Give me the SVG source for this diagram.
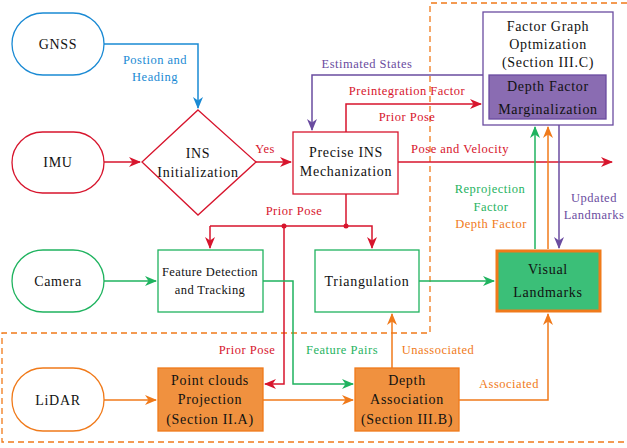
<svg xmlns="http://www.w3.org/2000/svg" width="627" height="448" viewBox="0 0 627 448">
<defs>
<style>
text{font-family:"Liberation Serif","Times New Roman",serif;text-anchor:middle;dominant-baseline:central}
.n{font-size:14px;fill:#111;letter-spacing:0.7px}
.lb{font-size:12.5px;letter-spacing:0.5px}
.red{stroke:#d7152d}
.blue{stroke:#1a8ad4}
.pur{stroke:#6a4ca0}
.grn{stroke:#1fb35f}
.org{stroke:#f07a1a}
.c{fill:none;stroke-width:1.5}
.box{stroke-width:1.3}
</style>
<marker id="ar" viewBox="0 0 12 10" refX="11" refY="5" markerWidth="12" markerHeight="10" markerUnits="userSpaceOnUse" orient="auto"><path d="M0,0 L12,5 L0,10 L3.5,5 Z" fill="#d7152d"/></marker>
<marker id="ab" viewBox="0 0 12 10" refX="11" refY="5" markerWidth="12" markerHeight="10" markerUnits="userSpaceOnUse" orient="auto"><path d="M0,0 L12,5 L0,10 L3.5,5 Z" fill="#1a8ad4"/></marker>
<marker id="ap" viewBox="0 0 12 10" refX="11" refY="5" markerWidth="12" markerHeight="10" markerUnits="userSpaceOnUse" orient="auto"><path d="M0,0 L12,5 L0,10 L3.5,5 Z" fill="#6a4ca0"/></marker>
<marker id="ag" viewBox="0 0 12 10" refX="11" refY="5" markerWidth="12" markerHeight="10" markerUnits="userSpaceOnUse" orient="auto"><path d="M0,0 L12,5 L0,10 L3.5,5 Z" fill="#1fb35f"/></marker>
<marker id="ao" viewBox="0 0 12 10" refX="11" refY="5" markerWidth="12" markerHeight="10" markerUnits="userSpaceOnUse" orient="auto"><path d="M0,0 L12,5 L0,10 L3.5,5 Z" fill="#f07a1a"/></marker>
</defs>
<rect width="627" height="448" fill="#fff"/>

<path id="dashed-region" d="M627,3 H430 V333 H2 V442 H627" fill="none" stroke="#f07a1a" stroke-width="1.3" stroke-dasharray="6,4"/>

<g id="connectors">
<path class="c blue" d="M104,44 H198 V108" marker-end="url(#ab)"/>
<path class="c red" d="M104,162 H140" marker-end="url(#ar)"/>
<path class="c red" d="M256,162 H291" marker-end="url(#ar)"/>
<path class="c pur" d="M483,75 H312 V130" marker-end="url(#ap)"/>
<path class="c red" d="M346,132 V104 H481" marker-end="url(#ar)"/>
<path class="c red" d="M398,162 H612" marker-end="url(#ar)"/>
<path class="c red" d="M346,194 V226"/>
<path class="c red" d="M210,226 H372 V248" marker-end="url(#ar)"/>
<path class="c red" d="M210,226 V248" marker-end="url(#ar)"/>
<path class="c red" d="M284,226 V384 H265" marker-end="url(#ar)"/>
<circle cx="346" cy="226" r="2.5" fill="#d7152d"/>
<circle cx="284" cy="226" r="2.5" fill="#d7152d"/>
<path class="c grn" d="M104,281 H156" marker-end="url(#ag)"/>
<path class="c grn" d="M263,281 H293 V384 H353" marker-end="url(#ag)"/>
<path class="c grn" d="M419,281 H494" marker-end="url(#ag)"/>
<path class="c grn" d="M535,249 V127" marker-end="url(#ag)"/>
<path class="c org" d="M548,249 V127" marker-end="url(#ao)"/>
<path class="c pur" d="M559,125 V248" marker-end="url(#ap)"/>
<path class="c org" d="M104,400 H156" marker-end="url(#ao)"/>
<path class="c org" d="M263,400 H353" marker-end="url(#ao)"/>
<path class="c org" d="M392,368 V314" marker-end="url(#ao)"/>
<path class="c org" d="M459,400 H548 V314" marker-end="url(#ao)"/>
</g>

<g id="labels">
<text class="lb" x="155" y="60" fill="#1a8ad4">Postion and</text>
<text class="lb" x="155" y="77" fill="#1a8ad4">Heading</text>
<text class="lb" x="265" y="149" fill="#d7152d">Yes</text>
<text class="lb" x="367" y="64" fill="#6a4ca0">Estimated States</text>
<text class="lb" x="407" y="91" fill="#d7152d">Preintegration Factor</text>
<text class="lb" x="407" y="117" fill="#d7152d">Prior Pose</text>
<text class="lb" x="460" y="149" fill="#d7152d">Pose and Velocity</text>
<text class="lb" x="294" y="211" fill="#d7152d">Prior Pose</text>
<text class="lb" x="490" y="189" fill="#1fb35f">Reprojection</text>
<text class="lb" x="491" y="207" fill="#1fb35f">Factor</text>
<text class="lb" x="491" y="224" fill="#f07a1a">Depth Factor</text>
<text class="lb" x="594" y="198" fill="#6a4ca0">Updated</text>
<text class="lb" x="594" y="215" fill="#6a4ca0">Landmarks</text>
<text class="lb" x="247" y="350" fill="#d7152d">Prior Pose</text>
<text class="lb" x="342" y="350" fill="#1fb35f">Feature Pairs</text>
<text class="lb" x="438" y="350" fill="#f07a1a">Unassociated</text>
<text class="lb" x="509" y="384" fill="#f07a1a">Associated</text>
</g>

<g id="gnss"><rect class="box" x="12" y="13" width="92" height="62" rx="31" fill="#fff" stroke="#1a8ad4"/><text class="n" x="58" y="44">GNSS</text></g>
<g id="imu"><rect class="box" x="12" y="132" width="92" height="61" rx="30.5" fill="#fff" stroke="#d7152d"/><text class="n" x="58" y="162">IMU</text></g>
<g id="camera"><rect class="box" x="12" y="250" width="92" height="62" rx="31" fill="#fff" stroke="#1fb35f"/><text class="n" x="58" y="281">Camera</text></g>
<g id="lidar"><rect class="box" x="12" y="368" width="92" height="63" rx="31" fill="#fff" stroke="#f07a1a"/><text class="n" x="58" y="400">LiDAR</text></g>

<g id="ins-init"><path class="box" d="M198,110 L256,162 L198,215 L142,162 Z" fill="#fff" stroke="#d7152d"/><text class="n" x="198" y="153">INS</text><text class="n" x="198" y="172">Initialization</text></g>
<g id="precise-ins"><rect class="box" x="293" y="132" width="105" height="62" fill="#fff" stroke="#d7152d"/><text class="n" x="346" y="152">Precise INS</text><text class="n" x="346" y="171">Mechanization</text></g>

<g id="factor-graph"><rect class="box" x="483" y="12" width="130" height="113" fill="#fff" stroke="#6a4ca0"/><text class="n" x="548" y="26">Factor Graph</text><text class="n" x="548" y="44">Optmization</text><text class="n" x="548" y="62">(Section III.C)</text></g>
<g id="depth-factor-marg"><rect class="box" x="489" y="75" width="117" height="44" fill="#8a6cb2" stroke="#6a4ca0"/><text class="n" x="548" y="86">Depth Factor</text><text class="n" x="548" y="109">Marginalization</text></g>

<g id="feature-detection"><rect class="box" x="158" y="250" width="105" height="62" fill="#fff" stroke="#1fb35f"/><text class="n" x="210" y="272" style="font-size:12.5px;letter-spacing:0.4px">Feature Detection</text><text class="n" x="210" y="290" style="font-size:12.5px;letter-spacing:0.4px">and Tracking</text></g>
<g id="triangulation"><rect class="box" x="315" y="250" width="104" height="62" fill="#fff" stroke="#1fb35f"/><text class="n" x="367" y="281">Triangulation</text></g>
<g id="visual-landmarks"><rect x="497" y="251" width="103" height="60" fill="#3bbf78" stroke="#f07a1a" stroke-width="3"/><text class="n" x="548" y="269">Visual</text><text class="n" x="548" y="292">Landmarks</text></g>

<g id="point-clouds"><rect class="box" x="158" y="368" width="105" height="63" fill="#f0913f" stroke="#f07a1a"/><text class="n" x="210" y="380">Point clouds</text><text class="n" x="210" y="399">Projection</text><text class="n" x="210" y="419">(Section II.A)</text></g>
<g id="depth-association"><rect class="box" x="355" y="368" width="104" height="63" fill="#f0913f" stroke="#f07a1a"/><text class="n" x="407" y="380">Depth</text><text class="n" x="407" y="399">Association</text><text class="n" x="407" y="419">(Section III.B)</text></g>
</svg>
